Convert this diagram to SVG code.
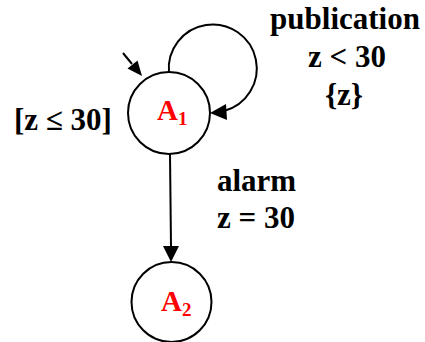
<svg xmlns="http://www.w3.org/2000/svg" width="425" height="342" viewBox="0 0 425 342">
<style>
.st{fill:#fff;stroke:#000;stroke-width:2}
.ln{fill:none;stroke:#000;stroke-width:2}
.lb{font-family:"Liberation Serif","Times New Roman",serif;font-weight:bold;font-size:31px;fill:#000}
.nm{font-family:"Liberation Serif","Times New Roman",serif;font-weight:bold;font-size:29px;fill:#ff0000}
.sb{font-size:19px}
</style>
<g id="connectors">
<path class="ln" d="M123,53 L132,64"/>
<path d="M142,76 L127.5,68.5 L137.5,60.5 z" fill="#000"/>
<path class="ln" d="M169,73 A44,44 0 1 1 224,111"/>
<path d="M210,113 L226,104 L227,120 z" fill="#000"/>
<path class="ln" d="M170,154 L171,247"/>
<path d="M171,262 L163,246 L179,246 z" fill="#000"/>
</g>
<g id="A1">
<circle class="st" cx="169" cy="113" r="41"/>
<text class="nm" x="157" y="120">A<tspan class="sb" dy="5">1</tspan></text>
</g>
<g id="A2">
<circle class="st" cx="171.5" cy="302" r="40"/>
<text class="nm" x="161" y="311">A<tspan class="sb" dy="5">2</tspan></text>
</g>
<g id="labels">
<text class="lb" x="14" y="130">[z ≤ 30]</text>
<text class="lb" x="345" y="29" text-anchor="middle">publication</text>
<text class="lb" x="347" y="67" text-anchor="middle">z &lt; 30</text>
<text class="lb" x="344" y="105" text-anchor="middle">{z}</text>
<text class="lb" x="217" y="191">alarm</text>
<text class="lb" x="217" y="228">z = 30</text>
</g>
</svg>
